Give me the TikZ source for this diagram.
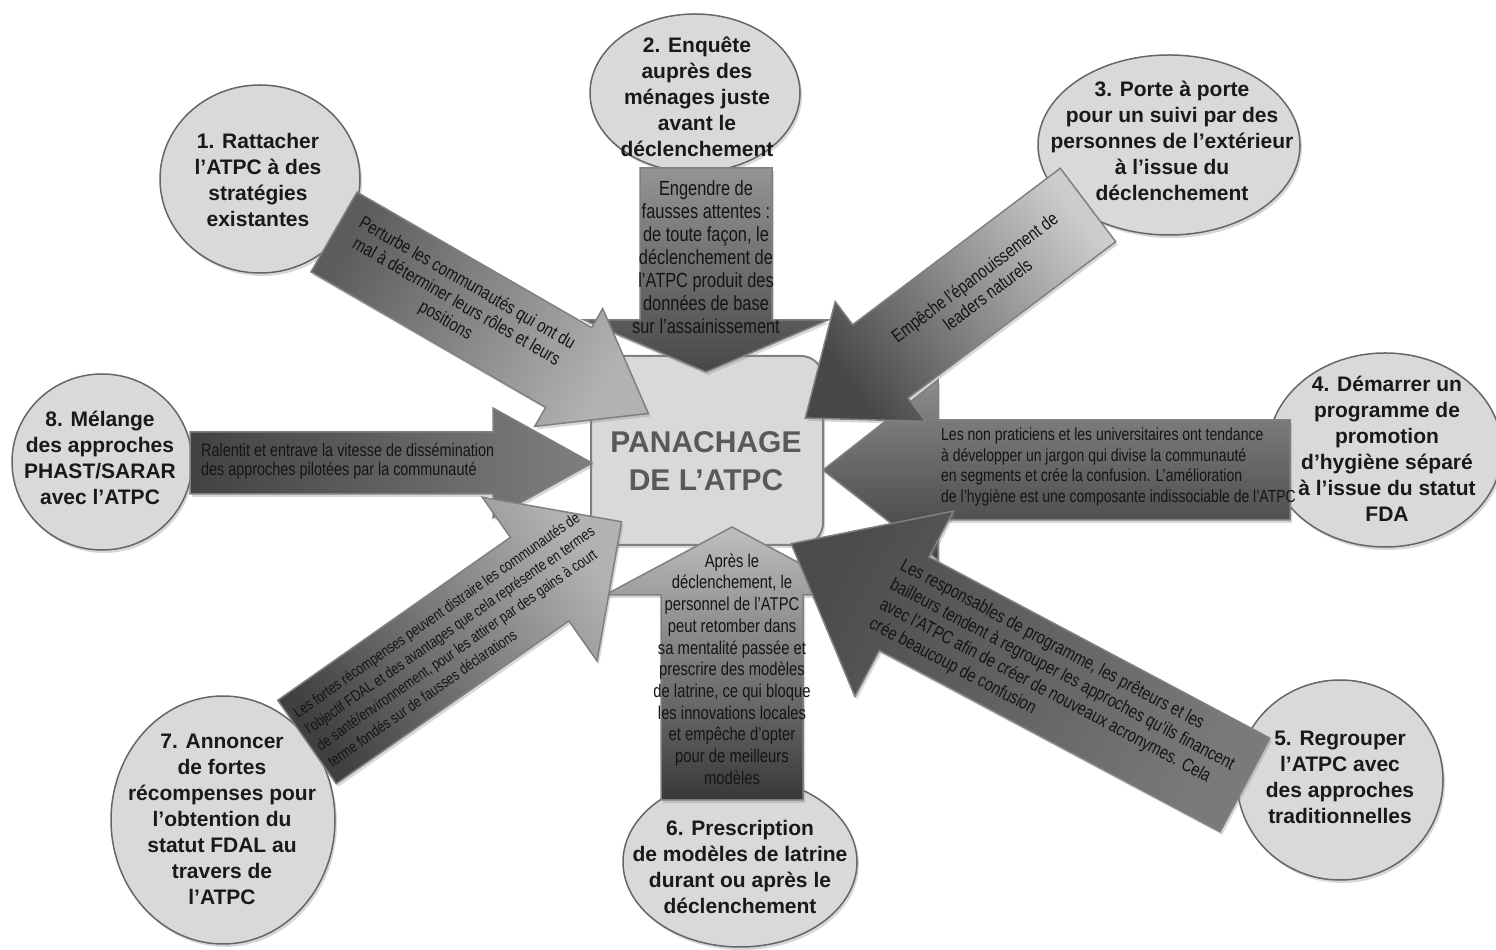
\documentclass[tikz,border=0pt]{standalone}
\usepackage{fontspec}
\setmainfont{Liberation Sans}
\newfontfamily\condfont[FakeStretch=0.8]{Liberation Sans}
\usetikzlibrary{shapes.geometric,shadows,calc}

\tikzset{
  softshadow/.style={drop shadow={opacity=0.3, shadow xshift=2pt, shadow yshift=-3pt}},
  bubble/.style={ellipse, draw=black!60, line width=1.5pt, fill=black!15, inner sep=0pt, softshadow},
  bubtext/.style={font=\fontsize{21}{26}\selectfont\bfseries, align=center, text=black!90, inner sep=0pt},
  arrowshape/.style={draw=black!50, line width=1.5pt, softshadow},
  atext/.style={font=\condfont\fontsize{18.5}{21.5}\selectfont, text=black!92, inner sep=0pt},
  hub/.style={rectangle, rounded corners=22pt, draw=black!50, line width=2pt, fill=black!15, inner sep=0pt, softshadow},
  hubtext/.style={font=\fontsize{30}{38}\selectfont\bfseries, text=black!65, align=center, inner sep=0pt},
  grad/.style n args={3}{top color=#1, bottom color=#2, shading angle=#3}
}

% #1 shading options, #2 body length, #3 body half-width, #4 head half-width, #5 head length
\newcommand\blockarrow[5]{%
  \path[arrowshape,#1] (0,-#3) -- (#2,-#3) -- (#2,-#4) -- ({#2+#5},0) -- (#2,#4) -- (#2,#3) -- (0,#3) -- cycle;}

\begin{document}
\begin{tikzpicture}[x=1pt,y=1pt]
\useasboundingbox (0,0) rectangle (1496,950);
\fill[white] (0,0) rectangle (1496,950);

% bubbles
\node[bubble, minimum width=200pt, minimum height=188pt] (c1) at (260,771) {};
\node[bubble, minimum width=210pt, minimum height=158pt] (c2) at (695,857) {};
\node[bubble, minimum width=262pt, minimum height=180pt] (c3) at (1169,805) {};
\node[bubble, minimum width=234pt, minimum height=194pt] (c4) at (1385,500) {};
\node[bubble, minimum width=206pt, minimum height=200pt] (c5) at (1340,170) {};
\node[bubble, minimum width=234pt, minimum height=170pt] (c6) at (740,88) {};
\node[bubble, minimum width=224pt, minimum height=248pt] (c7) at (223,130) {};
\node[bubble, minimum width=180pt, minimum height=176pt] (c8) at (102,488) {};

% hub
\node[hub, minimum width=232pt, minimum height=189pt] (hub) at (707,499.5) {};
\node[hubtext] (hubt) at (706,489) {PANACHAGE\\DE L’ATPC};

% arrow tails
\coordinate (a1t) at (334,718);
\coordinate (a2t) at (706,782);
\coordinate (a3t) at (1088,745);
\coordinate (a4t) at (1290,480);
\coordinate (a5t) at (1245,165);
\coordinate (a6t) at (732,150);
\coordinate (a7t) at (307,208);
\coordinate (a8t) at (190,487);

% arrow 8
\begin{scope}[shift={(a8t)}]
  \blockarrow{grad={black!50}{black!74}{-90}}{303}{31}{55}{99}
\end{scope}
\node[atext, align=left, anchor=west, font=\condfont\fontsize{18}{19.5}\selectfont] (x8) at (201,489)
  {Ralentit et entrave la vitesse de dissémination\\des approches pilotées par la communauté};

% arrow 4
\begin{scope}[shift={(a4t)}, rotate=180]
  \blockarrow{grad={black!45}{black!76}{0}}{352}{50}{90}{115}
\end{scope}
\node[atext, align=left, anchor=west, font=\condfont\fontsize{17.5}{20.5}\selectfont] (x4) at (941,483)
  {Les non praticiens et les universitaires ont tendance\\à développer un jargon qui divise la communauté\\en segments et crée la confusion. L’amélioration\\de l’hygiène est une composante indissociable de l’ATPC};

% arrow 2
\begin{scope}[shift={(a2t)}, rotate=-90]
  \blockarrow{grad={black!72}{black!42}{-180}}{152}{66}{122}{52}
\end{scope}
\node[atext, align=center, font=\condfont\fontsize{20.5}{23}\selectfont] (x2) at (706,693)
  {Engendre de\\fausses attentes :\\de toute façon, le\\déclenchement de\\l’ATPC produit des\\données de base\\sur l’assainissement};

% arrow 6
\begin{scope}[shift={(a6t)}, rotate=90]
  \blockarrow{grad={black!25}{black!78}{0}}{205}{71}{127}{68}
\end{scope}
\node[atext, align=center, font=\condfont\fontsize{18.5}{21.7}\selectfont] (x6) at (732,281)
  {Après le\\déclenchement, le\\personnel de l’ATPC\\peut retomber dans\\sa mentalité passée et\\prescrire des modèles\\de latrine, ce qui bloque\\les innovations locales\\et empêche d’opter\\pour de meilleurs\\modèles};

% arrow 1
\begin{scope}[shift={(a1t)}, rotate=-30]
  \blockarrow{grad={black!30}{black!64}{-120}}{271}{46}{68}{92}
  \node[atext, align=center, rotate=-30] (x1) at (141,0)
    {Perturbe les communautés qui ont du\\mal à déterminer leurs rôles et leurs\\positions};
\end{scope}

% arrow 3
\begin{scope}[shift={(a3t)}, rotate=217]
  \blockarrow{grad={black!72}{black!20}{127}}{260}{46}{75}{94}
  \node[atext, align=center, rotate=37] (x3) at (134,0)
    {Empêche l’épanouissement de\\leaders naturels};
\end{scope}

% arrow 5
\begin{scope}[shift={(a5t)}, rotate=152]
  \blockarrow{grad={black!70}{black!52}{62}}{386}{53}{105}{128}
  \node[atext, align=left, rotate=-28, font=\condfont\fontsize{18.5}{22}\selectfont] (x5) at (213,0)
    {Les responsables de programme, les prêteurs et les\\bailleurs tendent à regrouper les approches qu’ils financent\\avec l’ATPC afin de créer de nouveaux acronymes. Cela\\crée beaucoup de confusion};
\end{scope}

% arrow 7
\begin{scope}[shift={(a7t)}, rotate=35]
  \blockarrow{grad={black!30}{black!75}{-55}}{284}{51}{100}{100}
  \node[atext, align=left, rotate=35, font=\condfont\fontsize{15.5}{20}\selectfont] (x7) at (181,0)
    {Les fortes récompenses peuvent distraire les communautés de\\l’objectif FDAL et des avantages que cela représente en termes\\de santé/environnement, pour les attirer par des gains à court\\terme fondés sur de fausses déclarations};
\end{scope}

% bubble texts
\node[bubtext] (t1) at (258,770) {1. Rattacher\\l’ATPC à des\\stratégies\\existantes};
\node[bubtext] (t2) at (697,853) {2. Enquête\\auprès des\\ménages juste\\avant le\\déclenchement};
\node[bubtext] (t3) at (1172,809) {3. Porte à porte\\pour un suivi par des\\personnes de l’extérieur\\à l’issue du\\déclenchement};
\node[bubtext] (t4) at (1387,501) {4. Démarrer un\\programme de\\promotion\\d’hygiène séparé\\à l’issue du statut\\FDA};
\node[bubtext] (t5) at (1340,173) {5. Regrouper\\l’ATPC avec\\des approches\\traditionnelles};
\node[bubtext] (t6) at (740,83) {6. Prescription\\de modèles de latrine\\durant ou après le\\déclenchement};
\node[bubtext] (t7) at (222,131) {7. Annoncer\\de fortes\\récompenses pour\\l’obtention du\\statut FDAL au\\travers de\\l’ATPC};
\node[bubtext] (t8) at (100,492) {8. Mélange\\des approches\\PHAST/SARAR\\avec l’ATPC};
\end{tikzpicture}
\end{document}
